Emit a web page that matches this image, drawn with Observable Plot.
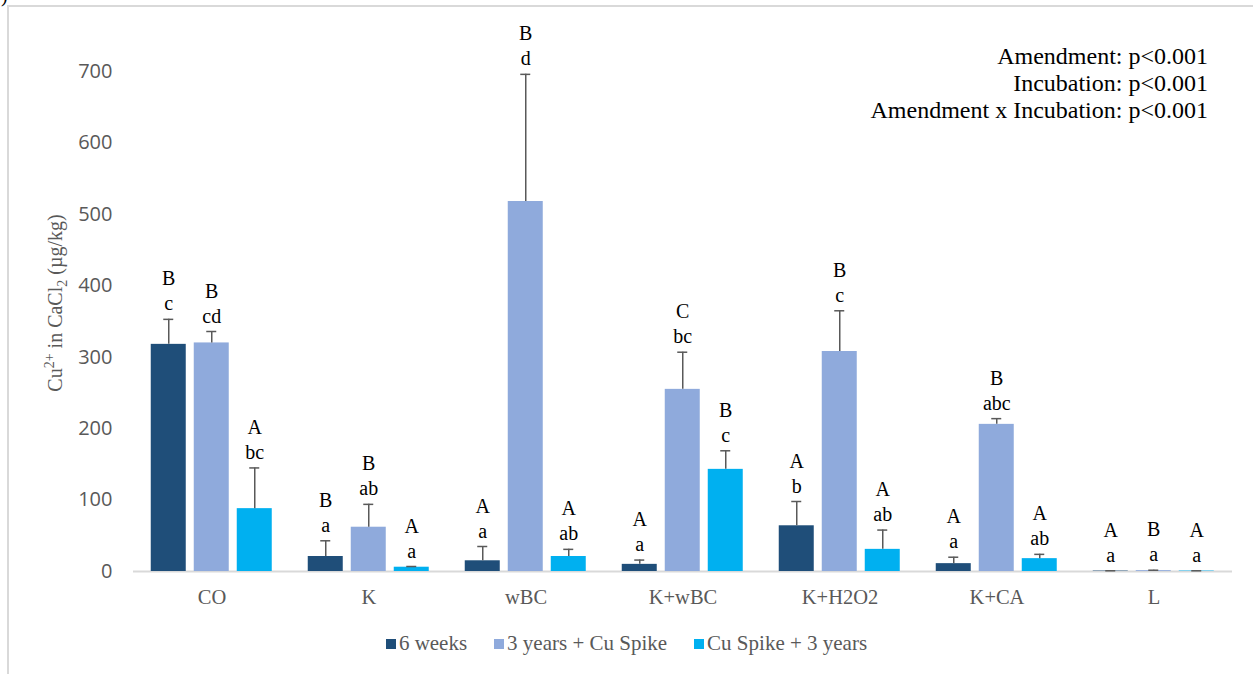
<!DOCTYPE html>
<html>
<head>
<meta charset="utf-8">
<script src="https://cdn.jsdelivr.net/npm/d3@7"></script>
<script src="https://cdn.jsdelivr.net/npm/@observablehq/plot@0.6"></script>
<style>
  body { margin: 0; background: #fff; }
  #wrap { position: relative; width: 1253px; height: 674px; overflow: hidden; background: #fff; }
  #frame { position: absolute; left: 7px; top: 5px; width: 1260px; height: 700px; border: 2px solid #d9d9d9; box-sizing: border-box; }
  #panel { position: absolute; left: -9px; top: -16px; font: 20px "Liberation Serif", serif; color: #000; }
  #chart { position: absolute; left: 0; top: 0; }
  #ytitle { position: absolute; left: 55px; top: 303px; transform: translate(-50%, -50%) rotate(-90deg);
            white-space: nowrap; font: 20px "Liberation Serif", serif; color: #595959; }
  #ytitle sup, #ytitle sub { font-size: 70%; line-height: 0; }
  #stats { position: absolute; right: 45px; top: 43px; text-align: right;
           font: 24px/27px "Liberation Serif", serif; color: #000; }
  #legend { position: absolute; left: 0; width: 1253px; top: 631px; display: flex; justify-content: center; gap: 27px;
            font: 21px "Liberation Serif", serif; color: #595959; }
  #legend .item { display: flex; align-items: center; gap: 3px; }
  #legend .sw { width: 10px; height: 10px; display: inline-block; }
</style>
</head>
<body>
<div id="wrap">
  <div id="frame"></div>
  <div id="panel">b)</div>
  <div id="chart"></div>
  <div id="ytitle">Cu<sup>2+</sup> in CaCl<sub>2</sub> (µg/kg)</div>
  <div id="stats">Amendment: p&lt;0.001<br>Incubation: p&lt;0.001<br>Amendment x Incubation: p&lt;0.001</div>
  <div id="legend"></div>
</div>
<script>
// Soil amendments (x groups) and incubation treatments (bars within each group)
const amendments = ["CO", "K", "wBC", "K+wBC", "K+H2O2", "K+CA", "L"];
const treatments = ["6 weeks", "3 years + Cu Spike", "Cu Spike + 3 years"];
const treatmentColors = ["#1F4E79", "#8FAADC", "#00B0F0"];

// Mean CaCl2-extractable Cu (µg/kg) and standard deviation per treatment
const mean6weeks = [318, 21, 15, 10, 64, 11, 0.6];
const sd6weeks = [35, 22, 20, 6, 34, 9, 0.4];
const mean3yearsSpike = [320, 62, 518, 255, 308, 206, 1.2];
const sd3yearsSpike = [16, 32, 178, 52, 57, 8, 0.6];
const meanSpike3years = [88, 6, 21, 143, 31, 18, 0.6];
const sdSpike3years = [57, 1, 10, 26, 27, 6, 0.4];

// Significance letters: uppercase compares incubations, lowercase compares amendments
const upper6weeks = ["B", "B", "A", "A", "A", "A", "A"];
const lower6weeks = ["c", "a", "a", "a", "b", "a", "a"];
const upper3yearsSpike = ["B", "B", "B", "C", "B", "B", "B"];
const lower3yearsSpike = ["cd", "ab", "d", "bc", "c", "abc", "a"];
const upperSpike3years = ["A", "A", "A", "B", "A", "A", "A"];
const lowerSpike3years = ["bc", "a", "ab", "c", "ab", "ab", "a"];

const yTicks = [0, 100, 200, 300, 400, 500, 600, 700];

const series = [
  [mean6weeks, sd6weeks, upper6weeks, lower6weeks],
  [mean3yearsSpike, sd3yearsSpike, upper3yearsSpike, lower3yearsSpike],
  [meanSpike3years, sdSpike3years, upperSpike3years, lowerSpike3years]
];

const rows = [];
amendments.forEach((amendment, i) => {
  treatments.forEach((treatment, j) => {
    const [m, s, u, l] = series[j];
    rows.push({amendment, treatment, mean: m[i], top: m[i] + s[i], upper: u[i], lower: l[i]});
  });
});

const serif = "Liberation Serif";
const errColor = "#595959";

const chart = Plot.plot({
  width: 1253,
  height: 615,
  marginLeft: 131.25,
  marginRight: 19.25,
  marginTop: 71,
  marginBottom: 44,
  fx: {domain: amendments, padding: 0, label: null},
  x: {domain: treatments, paddingInner: 0.18, paddingOuter: 0.4, axis: null},
  y: {domain: [0, 700]},
  color: {domain: treatments, range: treatmentColors},
  marks: [
    Plot.axisY({ticks: yTicks, tickSize: 0, tickPadding: 21, fontSize: 20, fontFamily: "Open Sans",
                color: "#595959", label: null}),
    Plot.axisFx({anchor: "bottom", tickSize: 0, tickPadding: 18, fontSize: 20.5, fontFamily: serif,
                 color: "#595959", label: null}),
    Plot.ruleY([0], {stroke: "#d9d9d9", strokeWidth: 2}),
    Plot.barY(rows, {fx: "amendment", x: "treatment", y: "mean", fill: "treatment"}),
    Plot.ruleX(rows, {fx: "amendment", x: "treatment", y1: "mean", y2: "top", stroke: errColor, strokeWidth: 1.5}),
    Plot.tickY(rows, {fx: "amendment", x: "treatment", y: "top", insetLeft: 12.5, insetRight: 12.5,
                      stroke: errColor, strokeWidth: 1.5}),
    Plot.text(rows, {fx: "amendment", x: "treatment", y: "top", text: d => d.upper + "\n" + d.lower,
                     lineAnchor: "bottom", lineHeight: 1.25, dy: -9, fontSize: 20, fontFamily: serif, fill: "#000"})
  ]
});
document.getElementById("chart").appendChild(chart);

// Legend below the plot
const legend = document.getElementById("legend");
treatments.forEach((t, j) => {
  const item = document.createElement("div");
  item.className = "item";
  const sw = document.createElement("span");
  sw.className = "sw";
  sw.style.background = treatmentColors[j];
  const label = document.createElement("span");
  label.textContent = t;
  item.append(sw, label);
  legend.appendChild(item);
});
</script>
</body>
</html>
